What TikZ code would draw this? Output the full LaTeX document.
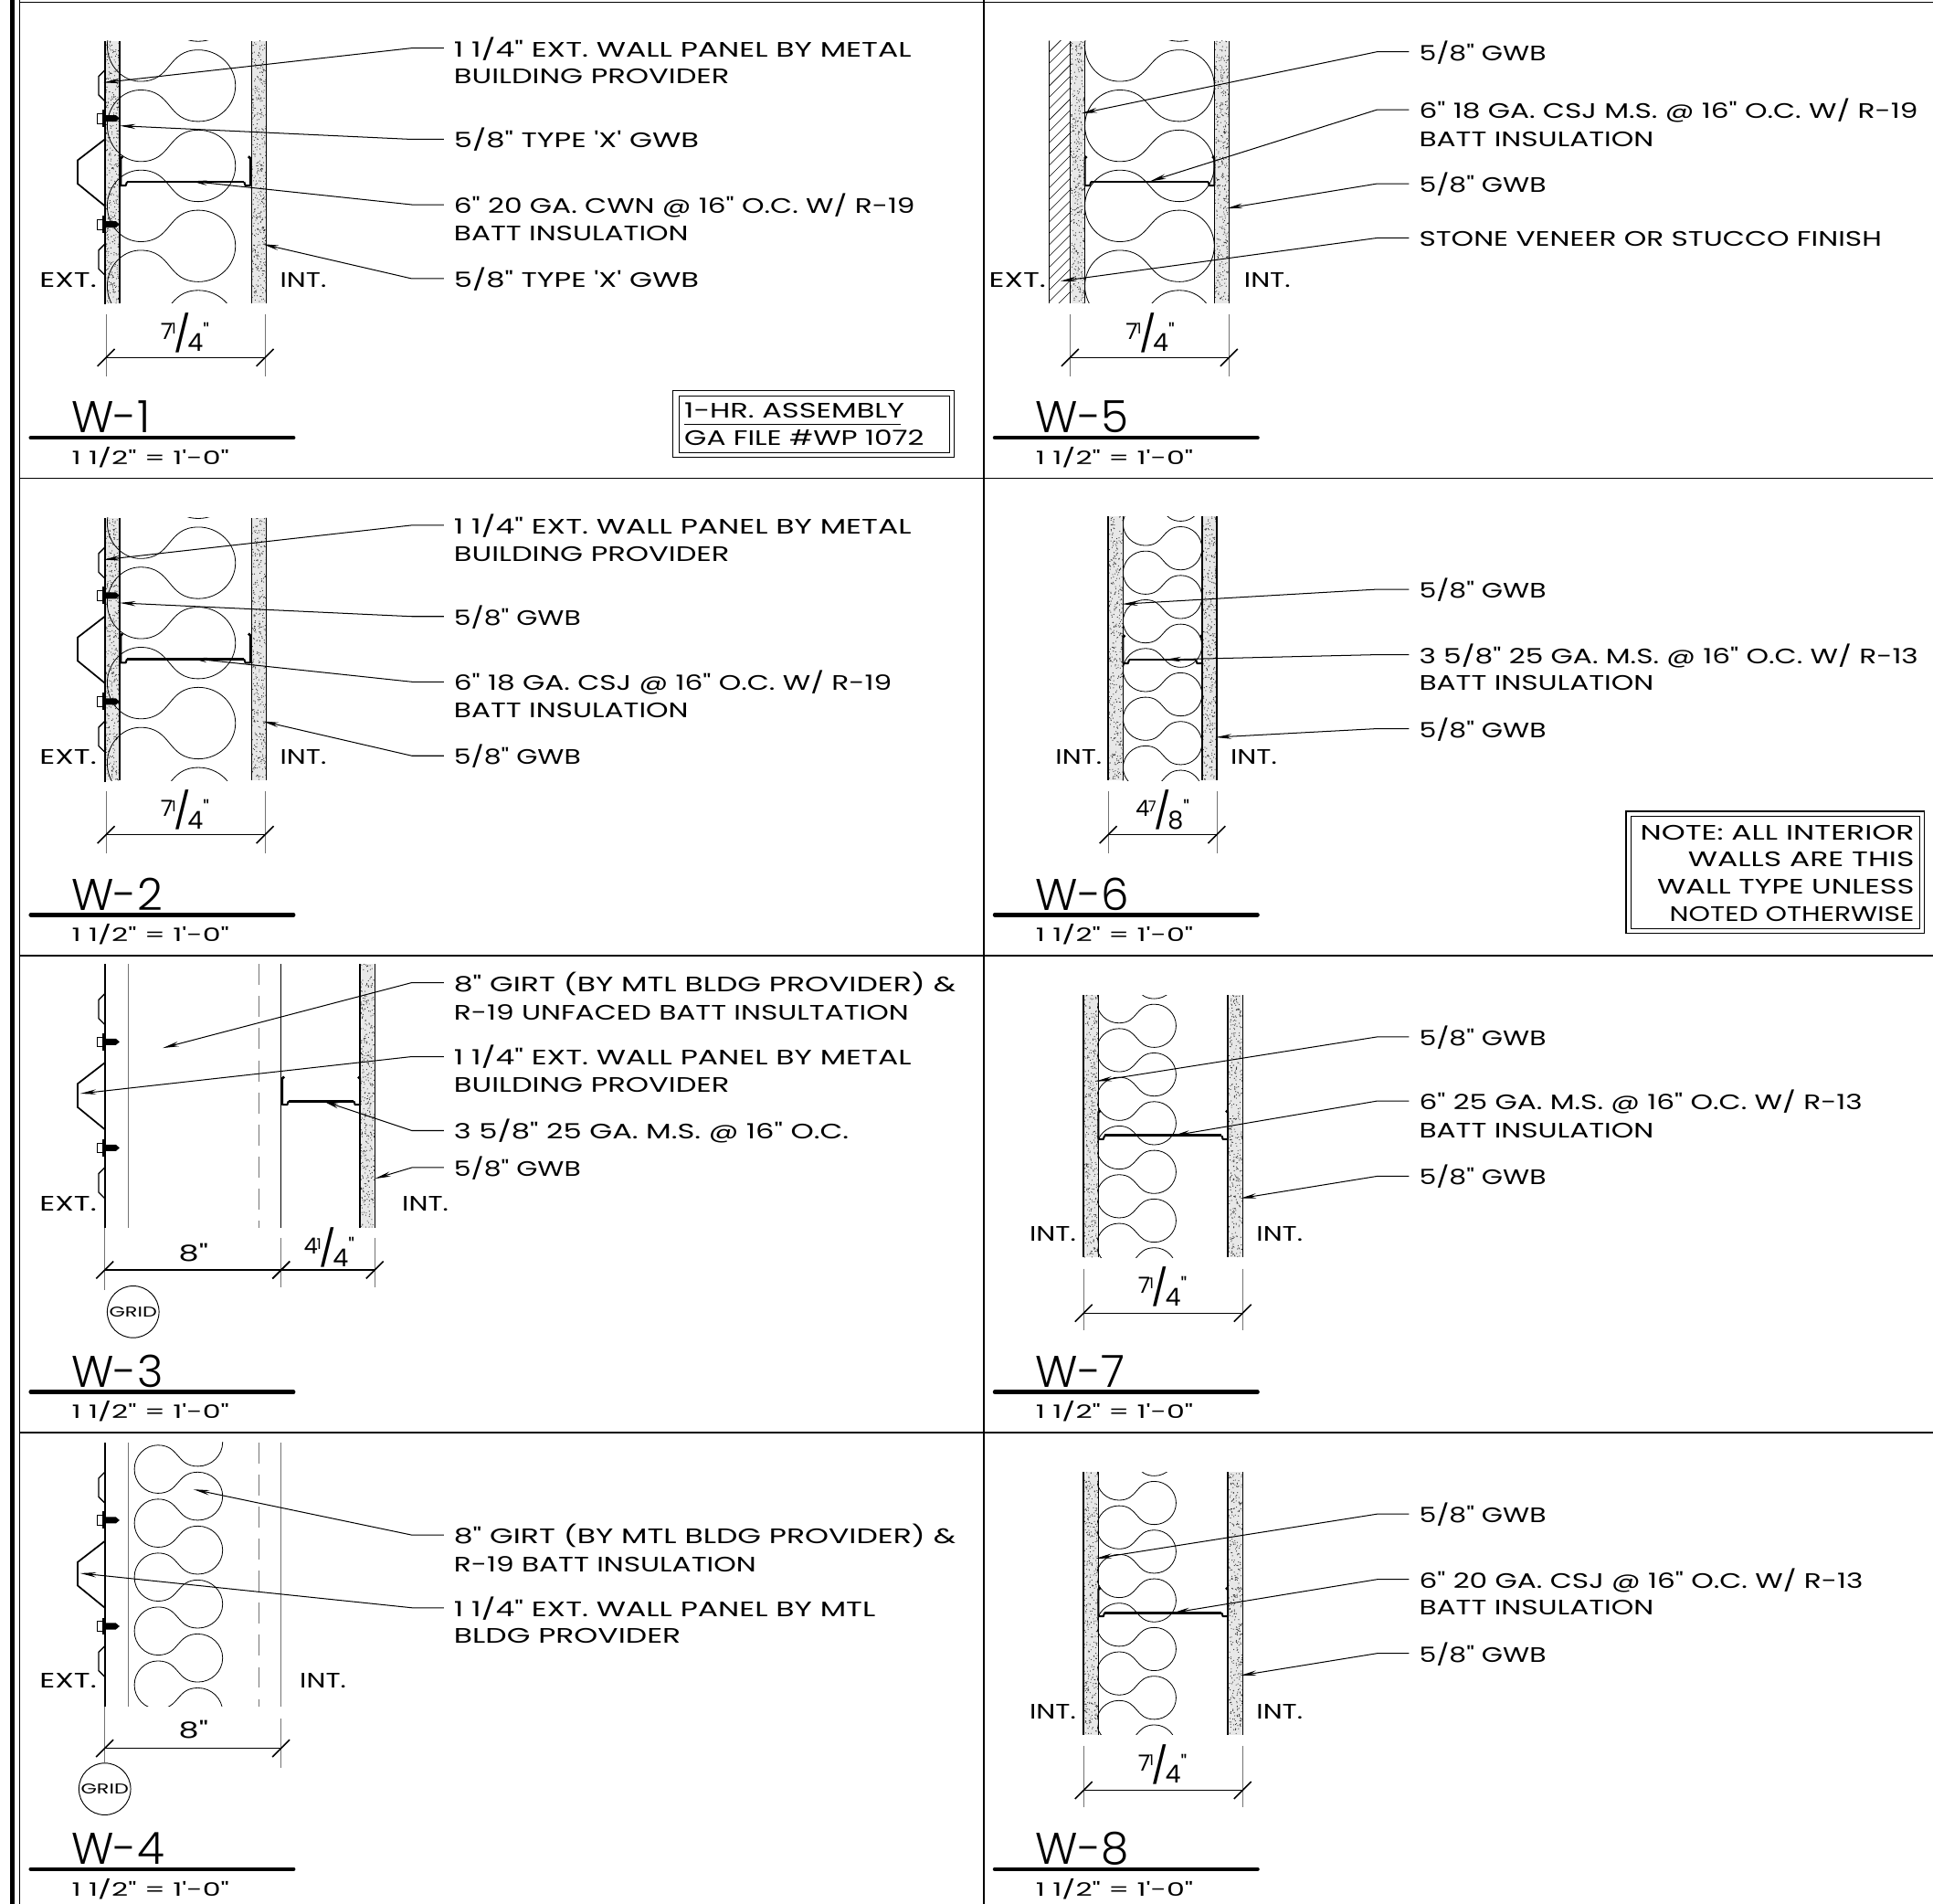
\documentclass[tikz,border=0pt]{standalone}
\usepackage{fontspec}
\usepackage{graphicx}
\usetikzlibrary{arrows.meta}
\newfontfamily\drawfont{Poppins}[FakeStretch=1.44]
\newfontfamily\midfont{Poppins}[FakeStretch=1.40]
\newfontfamily\narrowfont{Poppins}[FakeStretch=1.36]
\newfontfamily\gwbfont{Poppins}[FakeStretch=1.30]
\newfontfamily\scalefont{Poppins}[FakeStretch=1.56]
\newfontfamily\fracfont{Poppins}
\newfontfamily\titlefont{Poppins Light}
\tikzset{
    calltext/.style={anchor=west,inner xsep=8pt,inner ysep=0pt,text height=14pt,text depth=0pt,font=\drawfont\fontsize{17}{17}\selectfont},
    tag/.style={anchor=west,inner sep=0pt,text height=14pt,text depth=0pt,font=\drawfont\fontsize{17}{17}\selectfont},
    dimtext/.style={inner sep=0pt,font=\drawfont\fontsize{18}{18}\selectfont},
    gridtag/.style={circle,draw,line width=0.7pt,minimum size=42pt,inner sep=0pt,font=\drawfont\fontsize{11.5}{12}\selectfont},
    walltitle/.style={anchor=west,inner sep=0pt,font=\titlefont\fontsize{36}{36}\selectfont},
    scaletext/.style={anchor=west,inner sep=0pt,font=\scalefont\fontsize{15}{15}\selectfont},
    lead/.style={-{Stealth[length=13pt,width=4pt]},line width=0.75pt},
    wallline/.style={line width=1.1pt},
    battline/.style={line width=0.6pt},
    extline/.style={line width=0.6pt,black!55},
    dimline/.style={line width=0.8pt},
    tick/.style={line width=1.2pt},
    framethin/.style={line width=1.1pt},
    boxline/.style={line width=0.8pt}
}
\newcommand{\callout}[6]{
        \node[calltext] (#1) at (#3,#4) {#2};
        \coordinate (#1t) at (#5,#6);
        \draw[lead] (#1.west) -- ++(-26,0) -- (#1t);
}
\newcommand{\gwb}[3]{
        \fill[black!9] (#1,#2) rectangle (#1+12,#3);
        \fill[black!80] \foreach \d in {1,...,430} {({#1+12*rnd},{#2+(#3-#2)*rnd}) circle (0.44)};
        \draw[wallline] (#1,#2) -- (#1,#3) (#1+12,#2) -- (#1+12,#3);
}
\newcommand{\batt}[8]{
        \foreach \k in {0,...,#8} {
            \pgfmathsetmacro{\yc}{#5+\k*#7}
            \pgfmathsetmacro{\nk}{0.55*(#2-#1)}
            \draw[battline] (#2,\yc-#6) .. controls (#2+0.55*#4,\yc-#6) and (#2+#4,\yc-0.55*#6) .. (#2+#4,\yc)
                .. controls (#2+#4,\yc+0.55*#6) and (#2+0.55*#4,\yc+#6) .. (#2,\yc+#6)
                .. controls (#2-\nk,\yc+#6) and (#1+\nk,\yc+#7/2-#6) .. (#1,\yc+#7/2-#6)
                .. controls (#1-0.55*#3,\yc+#7/2-#6) and (#1-#3,\yc+#7/2-0.55*#6) .. (#1-#3,\yc+#7/2)
                .. controls (#1-#3,\yc+#7/2+0.55*#6) and (#1-0.55*#3,\yc+#7/2+#6) .. (#1,\yc+#7/2+#6)
                .. controls (#1+\nk,\yc+#7/2+#6) and (#2-\nk,\yc+#7-#6) .. (#2,\yc+#7-#6);
        }
}
\newcommand{\stud}[4]{
        \draw[line width=1.5pt,line join=round] (#1,#4) -- (#1,#3+3) -- (#1+4,#3+3) -- (#1+5,#3);
        \draw[line width=1.5pt,line join=round] (#2,#4) -- (#2,#3+3) -- (#2-4,#3+3) -- (#2-5,#3);
        \draw[line width=2.1pt] (#1+5,#3) -- (#2-5,#3);
        \fill (#1+0.8,#4) circle (1.4) (#2-0.8,#4) circle (1.4);
}
\newcommand{\screw}[2]{
        \draw[line width=0.5pt] (#1-6,#2-4) rectangle (#1-2,#2+4);
        \draw[line width=2.4pt] (#1-0.8,#2-7) -- (#1-0.8,#2+7);
        \fill (#1,#2-2.6) -- (#1+9,#2-2.6) -- (#1+12,#2) -- (#1+9,#2+2.6) -- (#1,#2+2.6) -- cycle;
}
\newcommand{\panel}[1]{
        \draw[line width=1.5pt] (85,#1) -- (85,#1+214);
        \draw[line width=1pt] (85,#1+24) -- (80,#1+29) -- (80,#1+44) -- (85,#1+49);
        \draw[line width=1.3pt] (85,#1+80) -- (63,#1+97) -- (63,#1+116) -- (85,#1+134);
        \draw[line width=1pt] (85,#1+165) -- (80,#1+170) -- (80,#1+185) -- (85,#1+190);
        \screw{85}{#1+63}
        \screw{85}{#1+149}
}
\newcommand{\dimspan}[6]{
        \coordinate (#1a) at (#2,#4);
        \coordinate (#1b) at (#3,#4);
        \draw[dimline] (#1a) -- (#1b);
        \draw[tick] (#2-7,#4+7) -- (#2+7,#4-7) (#3-7,#4+7) -- (#3+7,#4-7);
        \node[dimtext] (#1c) at (#5) {#6};
}
\newcommand{\plate}[4]{
        \node[walltitle] (#1) at (#3+33,#4-17) {#2};
        \draw[line width=3.4pt,line cap=round] (#3,#4) -- (#3+213,#4);
        \node[scaletext] (#1s) at (#3+33,#4+16) {1 1/2" = 1'-0"};
}
\newcommand{\stk}[3]{\fracfont\raisebox{4pt}{\fontsize{18}{18}\selectfont #1}\kern-1pt\raisebox{8pt}{\fontsize{12}{12}\selectfont #2}\kern-1.5pt\raisebox{-2pt}{\fontsize{29}{29}\selectfont /}\kern-3pt\raisebox{-6pt}{\fontsize{20}{20}\selectfont #3}\raisebox{4pt}{\fontsize{17}{17}\selectfont "}}
\begin{document}
\begin{tikzpicture}[x=1pt,y=-1pt]
        \useasboundingbox (0,0) rectangle (1568,1544.2);
        \fill[white] (0,0) rectangle (1568,1544.2);
        \pgfmathsetseed{4711}

        \draw[line width=3.4pt] (10,0) -- (10,1544.2);
        \draw[framethin] (16,0) -- (16,1544.2);
        \draw[framethin] (798,0) -- (798,1544.2);
        \foreach \r in {2,388,775,1162} {
            \draw[framethin] (16,\r) -- (1568,\r);
        }

        % W-1
        \gwb{85}{33}{246}
        \gwb{204}{33}{246}
        \begin{scope}
            \clip (85,33) rectangle (204,246);
            \batt{114}{161}{27}{30}{4.5}{29}{65}{4}
        \end{scope}
        \panel{33}
        \stud{98}{203}{147.5}{127.5}
        \callout{w1a}{1 1/4" EXT. WALL PANEL BY METAL}{360}{39}{84}{67}
        \node[calltext] (w1ax) at (360,61) {\midfont BUILDING PROVIDER};
        \callout{w1b}{\midfont 5/8" TYPE 'X' GWB}{360}{113}{97}{102}
        \callout{w1c}{\narrowfont 6" 20 GA. CWN @ 16" O.C. W/ R-19}{360}{166}{155}{147}
        \node[calltext] (w1cx) at (360,188) {\narrowfont BATT INSULATION};
        \callout{w1d}{\midfont 5/8" TYPE 'X' GWB}{360}{226}{213}{198}
        \node[tag] (w1ext) at (32,226) {EXT.};
        \node[tag] (w1int) at (227,226) {\gwbfont INT.};
        \draw[extline] (86,255) -- (86,305) (215,255) -- (215,305);
        \dimspan{w1m}{86}{215}{290}{150,270}{\stk{7}{1}{4}}
        \plate{w1}{W-1}{25}{355}
        \draw[boxline] (546,317) rectangle (774,371);
        \draw[line width=0.5pt] (551,321) rectangle (770,367);
        \node[tag] (w1g) at (555,332) {\midfont 1-HR. ASSEMBLY};
        \draw[line width=0.8pt] (555,344) -- (731,344);
        \node[tag] (w1h) at (555,354) {\narrowfont GA FILE \#WP 1072};

        % W-2
        \gwb{85}{420}{633}
        \gwb{204}{420}{633}
        \begin{scope}
            \clip (85,420) rectangle (204,633);
            \batt{114}{161}{27}{30}{391.5}{29}{65}{4}
        \end{scope}
        \panel{420}
        \stud{98}{203}{534.5}{514.5}
        \callout{w2a}{1 1/4" EXT. WALL PANEL BY METAL}{360}{426}{84}{454}
        \node[calltext] (w2ax) at (360,448) {\midfont BUILDING PROVIDER};
        \callout{w2b}{\gwbfont 5/8" GWB}{360}{500}{97}{489}
        \callout{w2c}{\narrowfont 6" 18 GA. CSJ @ 16" O.C. W/ R-19}{360}{553}{155}{534}
        \node[calltext] (w2cx) at (360,575) {\narrowfont BATT INSULATION};
        \callout{w2d}{\gwbfont 5/8" GWB}{360}{613}{213}{585}
        \node[tag] (w2ext) at (32,613) {EXT.};
        \node[tag] (w2int) at (227,613) {\gwbfont INT.};
        \draw[extline] (86,642) -- (86,692) (215,642) -- (215,692);
        \dimspan{w2m}{86}{215}{677}{150,657}{\stk{7}{1}{4}}
        \plate{w2}{W-2}{25}{742}

        % W-3
        \panel{782}
        \gwb{292}{782}{996}
        \draw[extline,line width=0.8pt] (104,782) -- (104,996);
        \draw[extline,line width=0.8pt,dash pattern=on 17pt off 9pt] (210,782) -- (210,996);
        \draw[line width=0.8pt] (228,782) -- (228,996);
        \stud{229}{292}{893}{874}
        \callout{w3a}{8" GIRT (BY MTL BLDG PROVIDER) \&}{360}{797}{132}{850}
        \node[calltext] (w3ax) at (360,820) {\narrowfont R-19 UNFACED BATT INSULTATION};
        \callout{w3b}{1 1/4" EXT. WALL PANEL BY METAL}{360}{857}{65}{887}
        \node[calltext] (w3bx) at (360,879) {\midfont BUILDING PROVIDER};
        \callout{w3c}{\midfont 3 5/8" 25 GA. M.S. @ 16" O.C.}{360}{917}{262}{893}
        \callout{w3d}{\gwbfont 5/8" GWB}{360}{947}{304}{956}
        \node[tag] (w3ext) at (32,975) {EXT.};
        \node[tag] (w3int) at (326,975) {\gwbfont INT.};
        \node[gridtag] (w3grid) at (108,1064) {GRID};
        \draw[extline] (85,996) -- (85,1046) (228,1004) -- (228,1044) (304,1004) -- (304,1044);
        \dimspan{w3m}{85}{228}{1030}{157,1016}{8"}
        \dimspan{w3n}{228}{304}{1030}{267,1012}{\stk{4}{1}{4}}
        \plate{w3}{W-3}{25}{1129}

        % W-4
        \panel{1170}
        \draw[extline,line width=0.8pt] (104,1170) -- (104,1384);
        \draw[extline,line width=0.8pt,dash pattern=on 17pt off 9pt] (210,1170) -- (210,1384);
        \draw[extline,line width=0.8pt] (228,1170) -- (228,1384);
        \begin{scope}
            \clip (104,1170) rectangle (228,1384);
            \batt{128}{160.6}{19}{20}{1169.75}{19.5}{43.75}{5}
        \end{scope}
        \callout{w4a}{8" GIRT (BY MTL BLDG PROVIDER) \&}{360}{1245}{157}{1208}
        \node[calltext] (w4ax) at (360,1268) {\narrowfont R-19 BATT INSULATION};
        \callout{w4b}{1 1/4" EXT. WALL PANEL BY MTL}{360}{1304}{65}{1276}
        \node[calltext] (w4bx) at (360,1326) {BLDG PROVIDER};
        \node[tag] (w4ext) at (32,1362) {EXT.};
        \node[tag] (w4int) at (243,1362) {\gwbfont INT.};
        \node[gridtag] (w4grid) at (85,1451) {GRID};
        \draw[extline] (85,1384) -- (w4grid) (228,1394) -- (228,1434);
        \dimspan{w4m}{85}{228}{1418}{157,1403}{8"}
        \plate{w4}{W-4}{25}{1516}

        % W-5
        \begin{scope}
            \clip (851,33) rectangle (868,246);
            \foreach \h in {0,...,25} {
                \draw[line width=0.4pt] (851,33+\h*9.2) -- (868,16+\h*9.2);
            }
        \end{scope}
        \draw[wallline,line width=0.6pt] (851,33) -- (851,246);
        \gwb{868}{33}{246}
        \gwb{985}{33}{246}
        \begin{scope}
            \clip (880,33) rectangle (985,246);
            \batt{908}{957}{28}{28}{4.5}{29}{65}{4}
        \end{scope}
        \stud{880}{985}{147.5}{127.5}
        \callout{w5a}{\gwbfont 5/8" GWB}{1143}{42}{877}{92}
        \callout{w5b}{\narrowfont 6" 18 GA. CSJ M.S. @ 16" O.C. W/ R-19}{1143}{89}{933}{147}
        \node[calltext] (w5bx) at (1143,112) {\narrowfont BATT INSULATION};
        \callout{w5c}{\gwbfont 5/8" GWB}{1143}{149}{995}{169}
        \callout{w5d}{\narrowfont STONE VENEER OR STUCCO FINISH}{1143}{193}{860}{228}
        \node[tag] (w5ext) at (802,226) {EXT.};
        \node[tag] (w5int) at (1009,226) {\gwbfont INT.};
        \draw[extline] (868,255) -- (868,305) (997,255) -- (997,305);
        \dimspan{w5m}{868}{997}{290}{933,270}{\stk{7}{1}{4}}
        \plate{w5}{W-5}{807}{355}

        % W-6
        \gwb{899}{419}{633}
        \gwb{975}{419}{633}
        \begin{scope}
            \clip (911,419) rectangle (975,633);
            \batt{929}{958}{18}{17}{405.2}{17.5}{39.5}{6}
        \end{scope}
        \stud{911}{975}{535}{516}
        \callout{w6a}{\gwbfont 5/8" GWB}{1143}{478}{910}{490}
        \callout{w6b}{\narrowfont 3 5/8" 25 GA. M.S. @ 16" O.C. W/ R-13}{1143}{531}{945}{535}
        \node[calltext] (w6bx) at (1143,553) {\narrowfont BATT INSULATION};
        \callout{w6c}{\gwbfont 5/8" GWB}{1143}{591}{986}{598}
        \node[tag] (w6ext) at (856,613) {\gwbfont INT.};
        \node[tag] (w6int) at (998,613) {\gwbfont INT.};
        \draw[extline] (899,642) -- (899,692) (987,642) -- (987,692);
        \dimspan{w6m}{899}{987}{677}{943,657}{\stk{4}{7}{8}}
        \plate{w6}{W-6}{807}{742}
        \draw[boxline] (1319,658) rectangle (1561,757);
        \draw[line width=0.5pt] (1323,662) rectangle (1557,753);
        \node[tag,anchor=east] (w6n1) at (1553,674) {NOTE: ALL INTERIOR};
        \node[tag,anchor=east] (w6n2) at (1553,696) {WALLS ARE THIS};
        \node[tag,anchor=east] (w6n3) at (1553,718) {\midfont WALL TYPE UNLESS};
        \node[tag,anchor=east] (w6n4) at (1553,740) {\gwbfont NOTED OTHERWISE};

        % W-7
        \gwb{879}{807}{1020}
        \gwb{996}{807}{1020}
        \begin{scope}
            \clip (890,807) rectangle (996,1020);
            \batt{907.6}{936.5}{18}{17.5}{792.5}{17.5}{39.5}{6}
        \end{scope}
        \stud{891}{996}{921}{901.5}
        \callout{w7a}{\gwbfont 5/8" GWB}{1143}{841}{889}{877}
        \callout{w7b}{\narrowfont 6" 25 GA. M.S. @ 16" O.C. W/ R-13}{1143}{893}{952}{921}
        \node[calltext] (w7bx) at (1143,916) {\narrowfont BATT INSULATION};
        \callout{w7c}{\gwbfont 5/8" GWB}{1143}{954}{1006}{972}
        \node[tag] (w7ext) at (835,1000) {\gwbfont INT.};
        \node[tag] (w7int) at (1019,1000) {\gwbfont INT.};
        \draw[extline] (879,1029) -- (879,1079) (1008,1029) -- (1008,1079);
        \dimspan{w7m}{879}{1008}{1065}{943,1044}{\stk{7}{1}{4}}
        \plate{w7}{W-7}{807}{1129}

        % W-8
        \gwb{879}{1194}{1407}
        \gwb{996}{1194}{1407}
        \begin{scope}
            \clip (890,1194) rectangle (996,1407);
            \batt{907.6}{936.5}{18}{17.5}{1179.5}{17.5}{39.5}{6}
        \end{scope}
        \stud{891}{996}{1308}{1288.5}
        \callout{w8a}{\gwbfont 5/8" GWB}{1143}{1228}{889}{1264}
        \callout{w8b}{\narrowfont 6" 20 GA. CSJ @ 16" O.C. W/ R-13}{1143}{1281}{952}{1308}
        \node[calltext] (w8bx) at (1143,1303) {\narrowfont BATT INSULATION};
        \callout{w8c}{\gwbfont 5/8" GWB}{1143}{1341}{1006}{1359}
        \node[tag] (w8ext) at (835,1387) {\gwbfont INT.};
        \node[tag] (w8int) at (1019,1387) {\gwbfont INT.};
        \draw[extline] (879,1416) -- (879,1466) (1008,1416) -- (1008,1466);
        \dimspan{w8m}{879}{1008}{1452}{943,1431}{\stk{7}{1}{4}}
        \plate{w8}{W-8}{807}{1516}
    \end{tikzpicture}
\end{document}
